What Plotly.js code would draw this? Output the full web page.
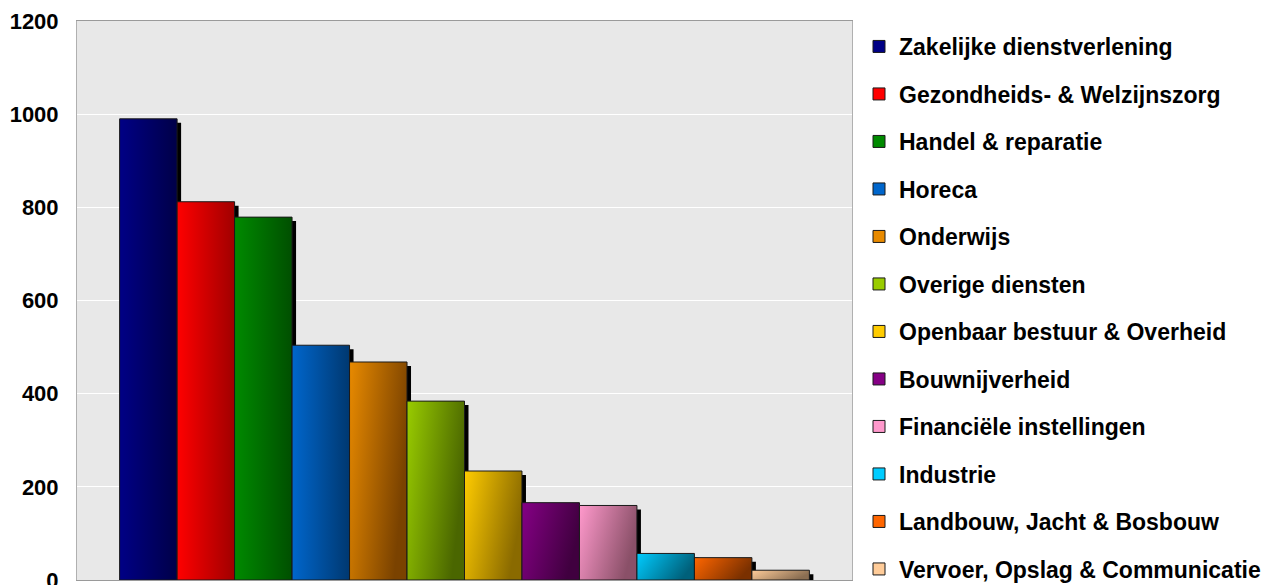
<!DOCTYPE html>
<html>
<head>
<meta charset="utf-8">
<script src="https://cdn.plot.ly/plotly-3.0.1.min.js"></script>
<style>
html,body{margin:0;padding:0;background:#fff;}
#chart{width:1266px;height:585px;}
</style>
</head>
<body>
<div id="chart"></div>
<script>
// ---- data ----
const categories = [
  "Zakelijke dienstverlening",
  "Gezondheids- & Welzijnszorg",
  "Handel & reparatie",
  "Horeca",
  "Onderwijs",
  "Overige diensten",
  "Openbaar bestuur & Overheid",
  "Bouwnijverheid",
  "Financiële instellingen",
  "Industrie",
  "Landbouw, Jacht & Bosbouw",
  "Vervoer, Opslag & Communicatie"
];
const values = [990, 812, 779, 504, 468, 384, 234, 166, 160, 57, 48, 21];
const colorsLight = ["#000085","#ff0000","#008a00","#0066cc","#e88a00","#99cc00","#ffcc00","#850085","#ff99cc","#00ccff","#ff6600","#ffcc99"];
const colorsDark  = ["#000048","#a00000","#004f00","#003870","#7a4200","#4a6600","#8a6a00","#40003f","#8a5068","#00607a","#7a3000","#8a6e52"];
const yTicks = [0, 200, 400, 600, 800, 1000, 1200];

// ---- geometry helpers (pixel offsets for shadow) ----
const W = 1266, H = 585;
const M = {l: 77, r: 414, t: 21, b: 5};
const plotW = W - M.l - M.r, plotH = H - M.t - M.b;
const yMax = 1200;
const shadowPx = 4;
const dy = shadowPx * yMax / plotH;
const dx = shadowPx / plotW;

const font = '"Liberation Sans", Arial, sans-serif';
const traces = [];
// shadows on base axes
categories.forEach((c, i) => {
  traces.push({
    type: 'bar', x: [''], y: [values[i]], name: c,
    xaxis: 'x', yaxis: 'y', showlegend: false, hoverinfo: 'skip',
    legendgroup: 's' + i,
    marker: {color: '#000000', line: {width: 0}}
  });
});
// main bars on overlay axes
categories.forEach((c, i) => {
  traces.push({
    type: 'bar', x: [''], y: [values[i]], name: c,
    xaxis: 'x2', yaxis: 'y2', legendgroup: 'g' + i,
    marker: {color: colorsLight[i], line: {width: 1, color: '#1a1a1a'}}
  });
});

const layout = {
  width: W, height: H,
  margin: M,
  paper_bgcolor: '#ffffff',
  plot_bgcolor: '#e8e8e8',
  barmode: 'group', bargap: 0.11, bargroupgap: 0,
  showlegend: true,
  xaxis: {range: [-0.5 - dx, 0.5 - dx], visible: false, fixedrange: true},
  yaxis: {range: [dy, yMax + dy], visible: false, fixedrange: true},
  xaxis2: {overlaying: 'x', range: [-0.5, 0.5], showticklabels: false, showgrid: false,
           zeroline: false, showline: true, mirror: true, linecolor: '#9a9a9a', linewidth: 1, ticks: ''},
  yaxis2: {overlaying: 'y', range: [0, yMax], tickvals: yTicks, ticktext: yTicks.map(String),
           showgrid: true, gridcolor: '#ffffff', gridwidth: 1, zeroline: false,
           showline: true, mirror: true, linecolor: '#b0b0b0', linewidth: 1,
           ticks: '', ticklabelstandoff: 13, ticklabeloverflow: 'allow',
           tickfont: {family: font, size: 22, color: '#000', weight: 'bold'}},
  legend: {xref: 'container', yref: 'container', x: 859 / W, xanchor: 'left',
           y: 1 - 25 / H, yanchor: 'top', maxheight: 700,
           font: {family: font, size: 23, color: '#000', weight: 'bold'},
           bgcolor: 'rgba(0,0,0,0)', tracegroupgap: 14.6, traceorder: 'grouped',
           itemclick: false, itemdoubleclick: false}
};

Plotly.newPlot('chart', traces, layout, {displayModeBar: false, staticPlot: true}).then(gd => {
  // horizontal light-to-dark gradients on the bars
  const svg = gd.querySelector('svg.main-svg');
  const NS = 'http://www.w3.org/2000/svg';
  let defs = svg.querySelector('defs');
  if (!defs) { defs = document.createElementNS(NS, 'defs'); svg.insertBefore(defs, svg.firstChild); }
  colorsLight.forEach((c, i) => {
    const g = document.createElementNS(NS, 'linearGradient');
    g.setAttribute('id', 'bargrad' + i);
    g.setAttribute('x1', '0'); g.setAttribute('y1', '0');
    g.setAttribute('x2', '1'); g.setAttribute('y2', (i >= 4 ? '0.35' : '0'));
    const s1 = document.createElementNS(NS, 'stop');
    s1.setAttribute('offset', '0'); s1.setAttribute('stop-color', c);
    const s2 = document.createElementNS(NS, 'stop');
    s2.setAttribute('offset', '1'); s2.setAttribute('stop-color', colorsDark[i]);
    g.appendChild(s1); g.appendChild(s2); defs.appendChild(g);
  });
  gd.querySelectorAll('.barlayer .trace').forEach(tr => {
    const d = tr.__data__;
    if (!d || !d[0] || !d[0].trace) return;
    const t = d[0].trace;
    if (t.xaxis !== 'x2') return;
    const i = t.index - categories.length;
    tr.querySelectorAll('path').forEach(p => { p.style.fill = 'url(#bargrad' + i + ')'; });
  });
});
</script>
</body>
</html>
